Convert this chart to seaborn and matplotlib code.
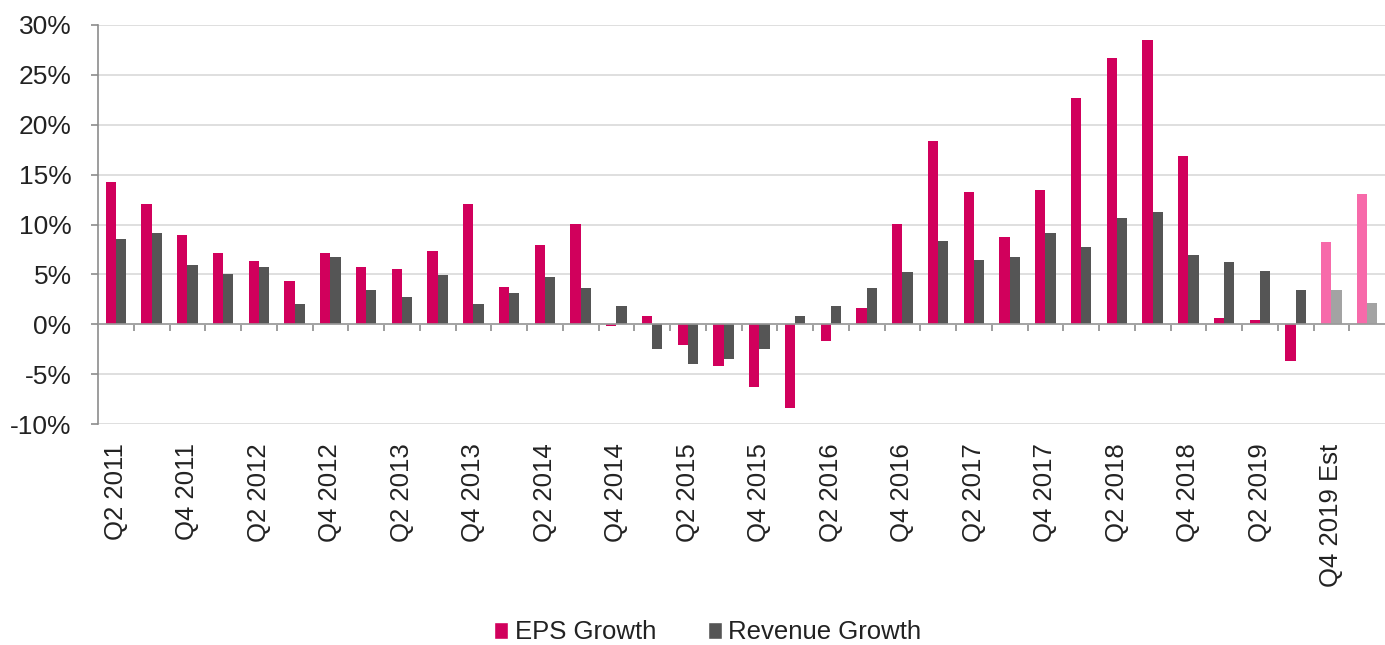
import matplotlib
matplotlib.use("Agg")
import matplotlib.pyplot as plt
import seaborn as sns
import pandas as pd
from matplotlib.ticker import FuncFormatter
from matplotlib.patches import Patch

quarters = [
    "Q2 2011", "Q3 2011", "Q4 2011", "Q1 2012", "Q2 2012", "Q3 2012",
    "Q4 2012", "Q1 2013", "Q2 2013", "Q3 2013", "Q4 2013", "Q1 2014",
    "Q2 2014", "Q3 2014", "Q4 2014", "Q1 2015", "Q2 2015", "Q3 2015",
    "Q4 2015", "Q1 2016", "Q2 2016", "Q3 2016", "Q4 2016", "Q1 2017",
    "Q2 2017", "Q3 2017", "Q4 2017", "Q1 2018", "Q2 2018", "Q3 2018",
    "Q4 2018", "Q1 2019", "Q2 2019", "Q3 2019", "Q4 2019 Est", "Q1 2020 Est",
]
eps_growth = [
    14.3, 12.1, 8.9, 7.1, 6.3, 4.3,
    7.1, 5.7, 5.5, 7.3, 12.1, 3.7,
    7.9, 10.1, -0.2, 0.8, -2.1, -4.2,
    -6.3, -8.4, -1.7, 1.6, 10.1, 18.4,
    13.3, 8.7, 13.5, 22.7, 26.7, 28.5,
    16.9, 0.6, 0.4, -3.7, 8.2, 13.1,
]
revenue_growth = [
    8.5, 9.1, 5.9, 5.0, 5.7, 2.0,
    6.7, 3.4, 2.7, 4.9, 2.0, 3.1,
    4.7, 3.6, 1.8, -2.5, -4.0, -3.5,
    -2.5, 0.8, 1.8, 3.6, 5.2, 8.3,
    6.4, 6.7, 9.1, 7.7, 10.7, 11.3,
    6.9, 6.2, 5.3, 3.4, 3.4, 2.1,
]
series_names = ["EPS Growth", "Revenue Growth"]
n_estimates = 2

c_eps, c_rev = "#D1005C", "#555555"
c_eps_est, c_rev_est = "#F76AAA", "#A3A3A3"

df = pd.DataFrame({
    "quarter": quarters * 2,
    "value": eps_growth + revenue_growth,
    "series": [series_names[0]] * len(quarters) + [series_names[1]] * len(quarters),
})

sns.set_theme(style="white")
plt.rcParams["font.family"] = ["Liberation Sans", "DejaVu Sans"]

fig = plt.figure(figsize=(13.85, 6.45), dpi=100)
ax = fig.add_axes([98 / 1385, (645 - 424) / 645, 1 - 98 / 1385, (424 - 25) / 645])

sns.barplot(data=df, x="quarter", y="value", hue="series", order=quarters,
            hue_order=series_names, palette=[c_eps, c_rev], width=0.58,
            gap=0, saturation=1, ax=ax, legend=False)

for cont, col in zip(ax.containers, [c_eps_est, c_rev_est]):
    for p in list(cont)[-n_estimates:]:
        p.set_facecolor(col)
for cont in ax.containers:
    for p in cont:
        p.set_edgecolor("none")

ax.set_xlim(-0.5, len(quarters) - 0.5)
ax.set_ylim(-10, 30)
ax.set_yticks(range(-10, 31, 5))
ax.yaxis.set_major_formatter(FuncFormatter(lambda v, _: f"{v:.0f}%"))
ax.grid(axis="y", color="#DCDCDC", linewidth=1.3)
ax.set_axisbelow(True)
ax.axhline(0, color="#9A9A9A", linewidth=1.2, zorder=3)

for s in ["top", "right", "bottom"]:
    ax.spines[s].set_visible(False)
ax.spines["left"].set_color("#8C8C8C")
ax.spines["left"].set_linewidth(1.2)

ax.set_xticks(range(0, len(quarters), 2))
ax.set_xticklabels(quarters[0::2], rotation=90)
ax.tick_params(axis="x", length=0, pad=14, labelsize=18.5, labelcolor="#222222")
ax.tick_params(axis="y", length=5, width=1.2, color="#8C8C8C", direction="out",
               left=True, pad=14, labelsize=19, labelcolor="#222222")

# tick marks between categories hanging from the zero line
sec = ax.secondary_xaxis((0 - (-10)) / 40)
sec.set_xticks([i + 0.5 for i in range(len(quarters) - 1)])
sec.tick_params(axis="x", length=5, width=1.2, color="#8C8C8C", direction="out",
                labelbottom=False, labeltop=False)
sec.spines["bottom"].set_visible(False)
sec.spines["top"].set_visible(False)

ax.set_xlabel("")
ax.set_ylabel("")

handles = [Patch(facecolor=c_eps), Patch(facecolor=c_rev)]
fig.legend(handles, series_names, loc="lower center", bbox_to_anchor=(0.511, -0.035),
           ncol=2, frameon=False, fontsize=18.5, handlelength=0.55, handleheight=0.6,
           handletextpad=0.25, columnspacing=2.0, labelcolor="#222222")

fig.savefig("out.png", dpi=100)
